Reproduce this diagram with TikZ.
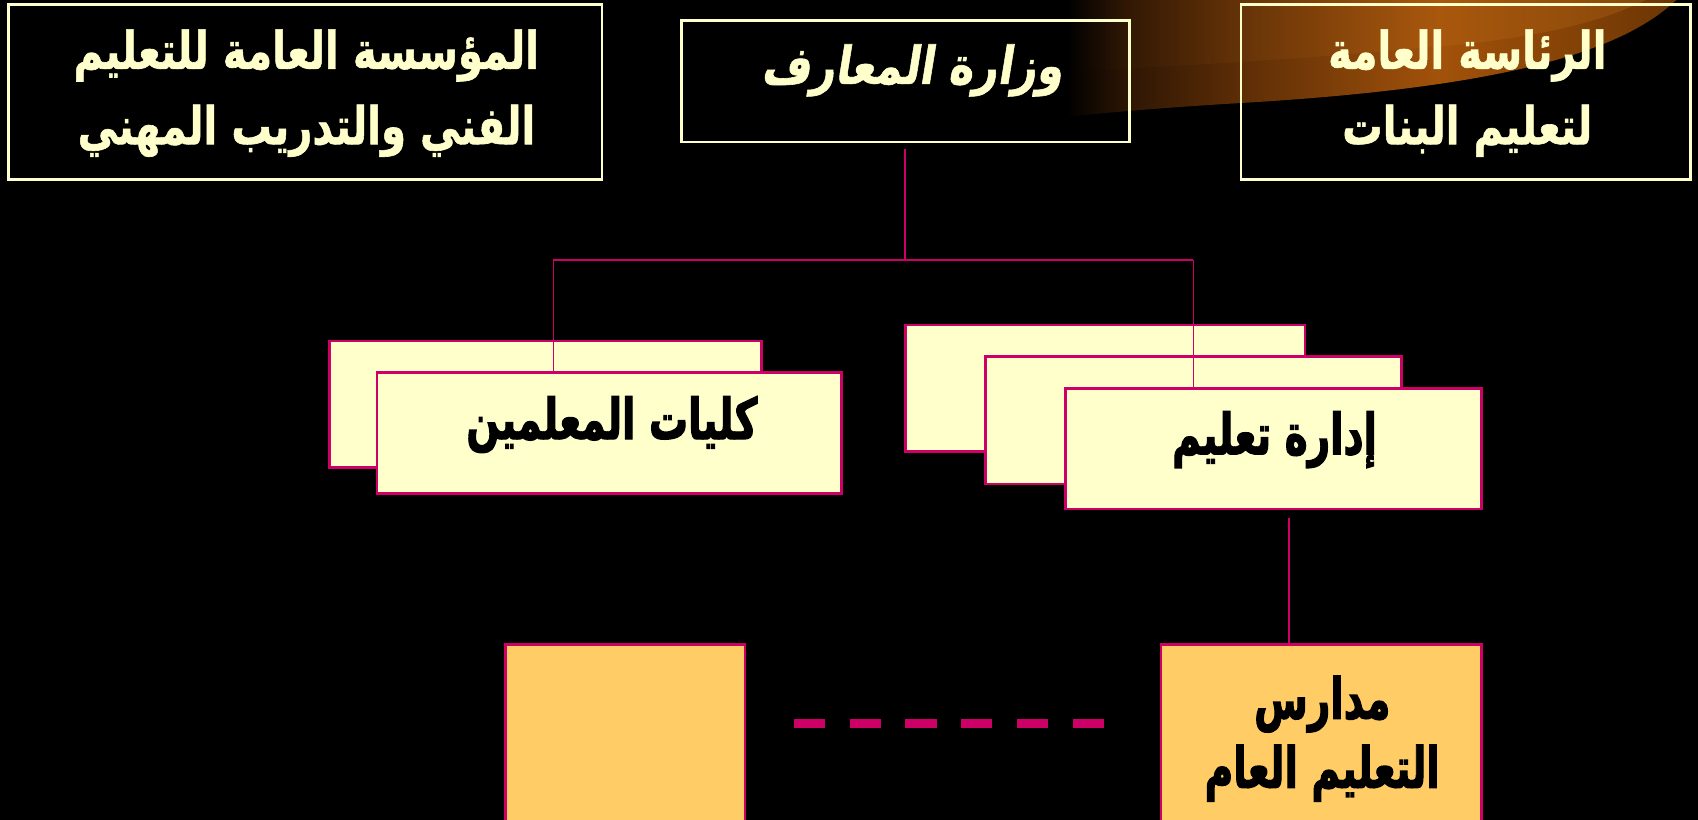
\documentclass[tikz,border=0pt]{standalone}
\usepackage{fontspec}
\usetikzlibrary{fadings}
\TeXXeTstate=1
\newfontfamily\arbold[Script=Arabic,FakeBold=1.2]{DejaVu Sans Bold}
\newfontfamily\arheavy[Script=Arabic,FakeBold=2.5]{DejaVu Sans Bold}
\newfontfamily\arslant[Script=Arabic,FakeSlant=0.2,FakeBold=1.2]{DejaVu Sans Bold}
\definecolor{cream}{HTML}{FFFFCC}
\definecolor{pinkline}{HTML}{CC0066}
\definecolor{paleyel}{HTML}{FFFFCC}
\definecolor{goldbox}{HTML}{FFCC66}
\definecolor{swa}{HTML}{2E1604}
\definecolor{swb}{HTML}{5E2E06}
\definecolor{swc}{HTML}{A2520A}
\definecolor{swd}{HTML}{844206}
\definecolor{swe}{HTML}{6A3505}
\definecolor{swlight}{HTML}{D07A20}
\pgfdeclarehorizontalshading{swoosh}{100bp}{color(0bp)=(black); color(25bp)=(black); color(30bp)=(swa); color(39.5bp)=(swb); color(55.5bp)=(swc); color(66.5bp)=(swd); color(75bp)=(swe); color(100bp)=(swe)}
\tikzfading[name=fadeinright, left color=transparent!100, right color=transparent!0]
\pgfdeclarelayer{bg}
\pgfdeclarelayer{back}
\pgfdeclarelayer{mid}
\pgfsetlayers{bg,back,mid,main}
\tikzset{
  topbox/.style={draw=cream, line width=2.5pt, inner sep=0pt, outer sep=0pt},
  ybox/.style={draw=pinkline, fill=paleyel, line width=2.5pt, inner sep=0pt, outer sep=0pt},
  gbox/.style={draw=pinkline, fill=goldbox, line width=2.5pt, inner sep=0pt, outer sep=0pt},
  conn/.style={draw=pinkline, line width=1.6pt},
  dashline/.style={draw=pinkline, line width=8pt, dash pattern=on 29pt off 22.5pt},
  ctext/.style={text=cream, font=\arbold\fontsize{40}{58}\selectfont, align=center, inner sep=0pt, xscale=0.93, yscale=1.2, transform shape},
  ktext/.style={text=black, font=\arheavy\fontsize{40}{49}\selectfont, align=center, inner sep=0pt, xscale=0.9, yscale=1.3, transform shape},
}
\begin{document}
\begin{tikzpicture}[x=1pt,y=-1pt]
\useasboundingbox (0,0) rectangle (1568,757);
\begin{pgfonlayer}{bg}
\fill[black] (0,0) rectangle (1568,757);
% swoosh
\shade[shading=swoosh] (985,0) -- (1548,0) .. controls (1500,45) and (1400,80) .. (1148,95) .. controls (1080,99) and (1020,104) .. (985,108) -- cycle;
\fill[swlight, opacity=0.25, path fading=fadeinright] (985,0) -- (1520,0) .. controls (1470,25) and (1400,38) .. (1303,45) .. controls (1200,55) and (1070,62) .. (985,66) -- cycle;
\end{pgfonlayer}
% top boxes
\node[topbox, minimum width=548pt, minimum height=162pt] (tl) at (282,85) {};
\node[topbox, minimum width=414pt, minimum height=112pt] (m) at (836,75) {};
\node[topbox, minimum width=415pt, minimum height=162pt] (tr) at (1353.5,85) {};
\node[ctext] (tlt) at (283,86) {\beginR المؤسسة العامة للتعليم\endR\\\beginR الفني والتدريب المهني\endR};
\node[ctext, font=\arslant\fontsize{40}{58}\selectfont, xscale=1.05] (mt) at (842,65) {\beginR وزارة المعارف\endR};
\node[ctext] (trt) at (1355,86) {\beginR الرئاسة العامة\endR\\\beginR لتعليم البنات\endR};
% back boxes
\begin{pgfonlayer}{back}
\node[ybox, minimum width=399pt, minimum height=117pt] (lb) at (503.5,373.5) {};
\node[ybox, minimum width=369pt, minimum height=117pt] (rb) at (1020.5,358.5) {};
\node[ybox, minimum width=384pt, minimum height=118pt] (rm) at (1102,388) {};
\end{pgfonlayer}
% front boxes
\node[ybox, minimum width=429pt, minimum height=112pt] (lf) at (562.5,400) {};
\node[ybox, minimum width=384pt, minimum height=111pt] (rf) at (1176,414.5) {};
\node[gbox, minimum width=221pt, minimum height=185pt] (bl) at (577.5,687.5) {};
\node[gbox, minimum width=296pt, minimum height=185pt] (br) at (1220,687.5) {};
\node[ktext] (lft) at (565,392) {\beginR كليات المعلمين\endR};
\node[ktext] (rft) at (1177,406) {\beginR إدارة تعليم\endR};
\node[ktext] (brt) at (1221,682) {\beginR مدارس\endR\\\beginR التعليم العام\endR};
% connectors
\coordinate (j) at (836,240);
\coordinate (hl) at (511,240);
\coordinate (hr) at (1102,240);
\coordinate (vx) at (1190,0);
\coordinate (d1) at (733,668);
\coordinate (d2) at (1020,668);
\begin{pgfonlayer}{mid}
\draw[conn, shorten <=7pt] (m.south) -- (j);
\draw[conn] (hl) -- (hr);
\draw[conn] (hl) -- (hl |- lf.north);
\draw[conn] (hr) -- (hr |- rf.north);
\end{pgfonlayer}
\draw[conn, shorten <=8pt] (vx |- rf.south) -- (vx |- br.north);
\draw[dashline] (d1) -- (d2);
\end{tikzpicture}
\end{document}
